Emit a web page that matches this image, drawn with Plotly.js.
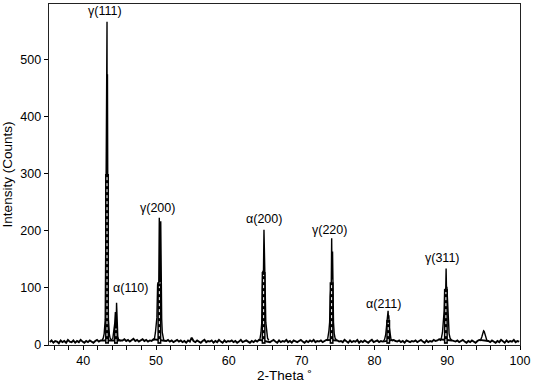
<!DOCTYPE html>
<html><head><meta charset="utf-8">
<script src="https://cdn.plot.ly/plotly-3.0.1.min.js"></script>
<style>html,body{margin:0;padding:0;background:#fff}#chart{width:533px;height:385px}</style>
</head><body><div id="chart"></div>
<script>
// ---- data ----
const scanStart = 35.4, scanStep = 0.25;
const baselineCounts = [
 5,8,4,7,6,3,8,5,7,4,9,6,5,8,4,7,5,9,6,4,
 7,5,8,6,4,7,9,6,8,10,12,14,14,12,11,12,14,12,10,9,
 8,10,7,9,6,8,11,7,9,6,8,10,7,9,6,8,7,10,9,11,
 12,10,9,8,7,9,6,8,5,7,9,6,8,5,7,4,8,6,13,7,
 5,8,6,4,7,9,5,7,6,8,4,7,5,9,6,4,8,5,7,6,
 8,5,7,4,6,9,5,7,8,6,4,7,5,8,6,9,7,8,6,7,
 8,5,7,9,6,4,8,5,7,6,9,5,7,4,8,6,5,7,9,6,
 4,7,5,8,6,9,5,7,6,8,5,7,9,6,8,10,7,9,8,6,
 7,5,9,6,4,8,5,7,6,9,4,7,5,8,6,4,7,9,5,6,
 8,5,7,6,9,7,8,10,8,9,7,6,8,5,7,4,8,6,5,7,
 6,8,5,7,9,6,4,8,5,7,6,9,7,8,10,9,8,9,11,10,
 9,8,7,6,8,5,7,9,6,4,7,5,8,6,4,7,9,8,10,12,
 9,7,5,8,6,4,7,5,9,6,4,8,5,7,6,9,5,7,6
];

// peak profiles (2-Theta, counts)
const g111X = [42.60,42.75,42.88,42.96,43.02,43.08,43.14,43.22,43.27,43.30,43.33,43.36,43.40,43.46,43.52,43.60,43.70,43.82,43.95];
const g111Y = [9,12,20,35,44,150,305,300,567,150,475,150,140,45,28,18,12,10,8];
const a110X = [44.05,44.15,44.25,44.33,44.42,44.47,44.53,44.58,44.63,44.68,44.75,44.85,45.00,45.20];
const a110Y = [10,18,30,38,58,32,36,74,34,24,15,10,8,7];
const g200X = [49.65,49.80,49.92,50.02,50.12,50.22,50.30,50.38,50.45,50.52,50.58,50.65,50.70,50.78,50.86,50.95,51.05,51.20];
const g200Y = [8,12,22,40,48,106,110,108,223,110,112,217,96,45,22,12,9,7];
const a200X = [64.15,64.30,64.42,64.52,64.60,64.68,64.76,64.83,64.88,64.93,65.00,65.08,65.18,65.32,65.50];
const a200Y = [7,12,22,38,100,130,128,202,135,165,95,40,22,12,8];
const g220X = [73.45,73.60,73.75,73.85,73.93,74.00,74.08,74.13,74.18,74.25,74.30,74.38,74.48,74.60,74.80];
const g220Y = [7,12,25,40,85,110,112,187,115,164,80,40,20,12,8];
const a211X = [81.25,81.40,81.55,81.65,81.75,81.82,81.88,81.93,81.98,82.05,82.15,82.28,82.45,82.60];
const a211Y = [7,10,18,30,44,45,60,46,52,30,18,10,8,7];
const g311X = [89.05,89.20,89.35,89.48,89.58,89.66,89.74,89.80,89.85,89.90,89.96,90.04,90.14,90.26,90.40,90.60];
const g311Y = [7,12,22,40,60,95,98,100,134,100,102,80,40,20,12,8];
const p95X = [94.45,94.60,94.75,94.88,95.00,95.08,95.18,95.30,95.45,95.60];
const p95Y = [7,9,14,22,25,24,18,11,8,7];

// dense lower part of the strong peaks
const columnX   = [43.27, 44.50, 50.46, 64.78, 74.12, 81.90, 89.82];
const columnTop = [300, 34, 108, 128, 110, 44, 98];

// peak labels
const labelText = ['γ(111)','α(110)','γ(200)','α(200)','γ(220)','α(211)','γ(311)'];
const labelX    = [43.0, 46.45, 50.15, 64.83, 73.85, 81.2, 89.35];
const labelY    = [586, 100, 240, 221, 202, 72, 153];

const yTicks = [0,100,200,300,400,500];

// ---- build ----
const outlines = [[g111X,g111Y],[a110X,a110Y],[g200X,g200Y],[a200X,a200Y],[g220X,g220Y],[a211X,a211Y],[g311X,g311Y],[p95X,p95Y]];
const baseX = [], baseY = [];
baselineCounts.forEach((v,i)=>{
  const x = +(scanStart + i*scanStep).toFixed(3);
  const inside = outlines.some(([xs])=> x > xs[0] && x < xs[xs.length-1]);
  if(!inside){ baseX.push(x); baseY.push(v); }
});
const pkX = [], pkY = [];
outlines.forEach(([xs,ys])=>{ xs.forEach((x,i)=>{pkX.push(x); pkY.push(ys[i]);}); pkX.push(null); pkY.push(null); });

const colX=[], colY=[], dotX=[], dotY=[];
columnX.forEach((c,i)=>{
  colX.push(c,c,null); colY.push(2,columnTop[i],null);
  dotX.push(c,c,null); dotY.push(5,columnTop[i]-5,null);
});

const font = 'Liberation Sans, Arial, sans-serif';
const traces = [
  {x:baseX, y:baseY, mode:'lines', line:{color:'#000',width:1.9}, hoverinfo:'skip'},
  {x:pkX, y:pkY, mode:'lines', line:{color:'#000',width:1.4}, connectgaps:false, hoverinfo:'skip'},
  {x:colX, y:colY, mode:'lines', line:{color:'#000',width:4}, hoverinfo:'skip'},
  {x:dotX, y:dotY, mode:'lines', line:{color:'#fff',width:1,dash:'dot'}, hoverinfo:'skip'}
];

const annotations = labelText.map((t,i)=>({
  x:labelX[i], y:labelY[i], text:t, showarrow:false, xanchor:'center', yanchor:'middle',
  font:{family:font,size:12.5,color:'#000'}
}));

const layout = {
  width:533, height:385,
  margin:{l:49,r:13,t:4,b:40},
  paper_bgcolor:'#fff', plot_bgcolor:'#fff',
  showlegend:false,
  font:{family:font,size:12,color:'#000'},
  xaxis:{
    range:[35.3,100], dtick:10, tick0:0, ticks:'outside', ticklen:4, tickwidth:1, tickcolor:'#000',
    minor:{dtick:2, ticks:'outside', ticklen:4, tickwidth:1, tickcolor:'#000', showgrid:false},
    showgrid:false, zeroline:false, showline:true, linecolor:'#222', linewidth:1.3, mirror:true,
    tickfont:{family:font,size:12.5,color:'#000'},
    title:{text:'2-Theta ˚', font:{family:font,size:13.5,color:'#000'}, standoff:0}
  },
  yaxis:{
    range:[0,598], tickvals:yTicks, ticks:'outside', ticklen:4, tickwidth:1, tickcolor:'#000',
    showgrid:false, zeroline:false, showline:true, linecolor:'#222', linewidth:1.3, mirror:true,
    tickfont:{family:font,size:12.5,color:'#000'},
    title:{text:'Intensity (Counts)', font:{family:font,size:13.5,color:'#000'}, standoff:8}
  },
  annotations
};

Plotly.newPlot('chart', traces, layout, {staticPlot:true, displayModeBar:false});
</script></body></html>
